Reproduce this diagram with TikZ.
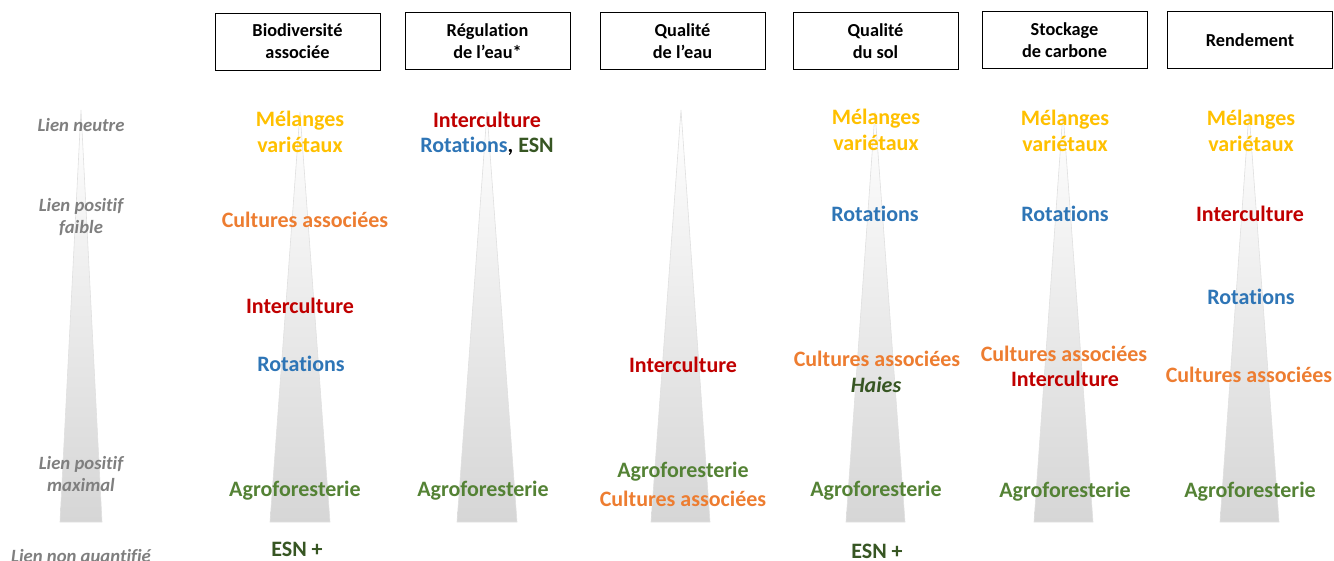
\documentclass[tikz,border=0pt]{standalone}
\usepackage{fontspec}
\setmainfont{Carlito}[Ligatures=NoCommon]
\definecolor{cgold}{HTML}{FFC000}
\definecolor{corange}{HTML}{ED7D31}
\definecolor{cred}{HTML}{C00000}
\definecolor{cblue}{HTML}{2E75B6}
\definecolor{cgreen}{HTML}{548235}
\definecolor{cdkgreen}{HTML}{375623}
\definecolor{cgray}{HTML}{7F7F7F}
\definecolor{tri}{HTML}{D6D6D6}
\tikzset{
  hdr/.style={draw=black, line width=1pt, minimum width=165pt, minimum height=57pt, align=center, inner sep=2pt, font=\fontsize{18.3}{22}\selectfont\bfseries},
  lvl/.style={align=center, text=cgray, font=\fontsize{18.7}{22}\selectfont\bfseries\itshape, inner sep=0pt},
  lab/.style={align=center, font=\fontsize{22}{26}\selectfont\bfseries, inner sep=0pt},
  mel/.style={lab, text=cgold},
  cua/.style={lab, text=corange},
  int/.style={lab, text=cred},
  rot/.style={lab, text=cblue},
  agr/.style={lab, text=cgreen},
  esn/.style={lab, text=cdkgreen},
  trishade/.style={top color=white, bottom color=tri, draw=black!12, line width=0.6pt}
}
\begin{document}
\begin{tikzpicture}[x=1pt, y=-1pt]
\useasboundingbox (0,0) rectangle (1334,560);
% triangles
\shade[trishade] (81,110) -- (102,522) -- (60,522) -- cycle;
\shade[trishade] (300,112) -- (330,522) -- (270,522) -- cycle;
\shade[trishade] (487,112) -- (517,522) -- (457,522) -- cycle;
\shade[trishade] (681,110) -- (710,522) -- (651,522) -- cycle;
\shade[trishade] (875,112) -- (905,522) -- (846,522) -- cycle;
\shade[trishade] (1063,112) -- (1093,522) -- (1034,522) -- cycle;
\shade[trishade] (1249,112) -- (1279,522) -- (1220,522) -- cycle;
% headers
\node[hdr] (h1) at (297.5,41.5) {Biodiversité\\associée};
\node[hdr] (h2) at (487.5,41) {Régulation\\de l’eau*};
\node[hdr] (h3) at (682.5,41) {Qualité\\de l’eau};
\node[hdr] (h4) at (875.5,41) {Qualité\\du sol};
\node[hdr] (h5) at (1064.5,40) {Stockage\\de carbone};
\node[hdr] (h6) at (1250,40) {Rendement};
% level labels
\node[lvl] (l1) at (81,125) {Lien neutre};
\node[lvl] (l2) at (81,217) {Lien positif\\faible};
\node[lvl] (l3) at (81,474) {Lien positif\\maximal};
\node[lvl] (l4) at (81,557) {Lien non quantifié};
% column 1
\node[mel] (c1a) at (300,132) {Mélanges\\variétaux};
\node[cua] (c1b) at (305,220) {Cultures associées};
\node[int] (c1c) at (300,306) {Interculture};
\node[rot] (c1d) at (301,364) {Rotations};
\node[agr] (c1e) at (295,491) {Agroforesterie};
\node[esn] (c1f) at (297,549) {ESN +};
% column 2
\node[int] (c2a) at (487,120) {Interculture};
\node[lab] (c2b) at (487,146) {\textcolor{cblue}{Rotations}, \textcolor{cdkgreen}{ESN}};
\node[agr] (c2c) at (483,491) {Agroforesterie};
% column 3
\node[int] (c3a) at (683,365) {Interculture};
\node[agr] (c3b) at (683,472) {Agroforesterie};
\node[cua] (c3c) at (683,499) {Cultures associées};
% column 4
\node[mel] (c4a) at (876,130) {Mélanges\\variétaux};
\node[rot] (c4b) at (875,214) {Rotations};
\node[cua] (c4c) at (877,359) {Cultures associées};
\node[esn, font=\fontsize{22}{26}\selectfont\bfseries\itshape] (c4d) at (876,385) {Haies};
\node[agr] (c4e) at (876,491) {Agroforesterie};
\node[esn] (c4f) at (877,551) {ESN +};
% column 5
\node[mel] (c5a) at (1065,131) {Mélanges\\variétaux};
\node[rot] (c5b) at (1065,214) {Rotations};
\node[cua] (c5c) at (1064,354) {Cultures associées};
\node[int] (c5d) at (1065,379) {Interculture};
\node[agr] (c5e) at (1065,492) {Agroforesterie};
% column 6
\node[mel] (c6a) at (1251,131) {Mélanges\\variétaux};
\node[int] (c6b) at (1250,214) {Interculture};
\node[rot] (c6c) at (1251,297) {Rotations};
\node[cua] (c6d) at (1249,375) {Cultures associées};
\node[agr] (c6e) at (1250,492) {Agroforesterie};
\end{tikzpicture}
\end{document}
